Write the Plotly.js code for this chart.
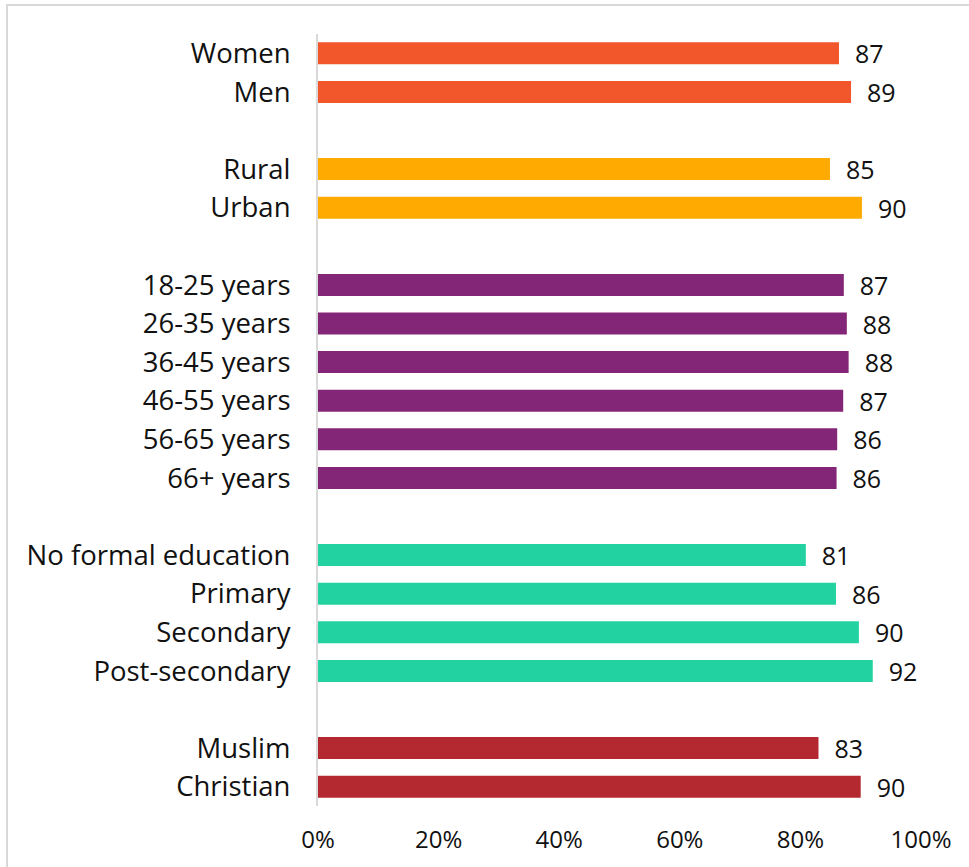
<!DOCTYPE html>
<html>
<head>
<meta charset="utf-8">
<script src="https://cdn.plot.ly/plotly-3.0.1.min.js"></script>
<style>
  html, body { margin: 0; padding: 0; background: #ffffff; overflow: hidden; }
  #chart { width: 969px; height: 867px; }
  #frame { position: absolute; left: 6px; top: 4px; width: 2000px; height: 2000px;
           border-top: 2px solid #d9d9d9; border-left: 2px solid #d9d9d9; pointer-events: none; }
</style>
</head>
<body>
<div id="chart"></div>
<div id="frame"></div>
<script>
// ---- Data ----
const genderCats = ["Women", "Men"];
const genderVals = [86.4, 88.4];
const genderLabels = ["87", "89"];

const locationCats = ["Rural", "Urban"];
const locationVals = [84.9, 90.2];
const locationLabels = ["85", "90"];

const ageCats = ["18-25 years", "26-35 years", "36-45 years", "46-55 years", "56-65 years", "66+ years"];
const ageVals = [87.2, 87.7, 88.0, 87.1, 86.1, 86.0];
const ageLabels = ["87", "88", "88", "87", "86", "86"];

const educationCats = ["No formal education", "Primary", "Secondary", "Post-secondary"];
const educationVals = [80.9, 85.9, 89.7, 92.0];
const educationLabels = ["81", "86", "90", "92"];

const religionCats = ["Muslim", "Christian"];
const religionVals = [83.0, 90.0];
const religionLabels = ["83", "90"];

const xTickVals = [0, 20, 40, 60, 80, 100];
const xTickText = ["0%", "20%", "40%", "60%", "80%", "100%"];

// ---- Build traces ----
const groups = [
  { cats: genderCats, vals: genderVals, labels: genderLabels, color: "#F2572B" },
  { cats: locationCats, vals: locationVals, labels: locationLabels, color: "#FFAA00" },
  { cats: ageCats, vals: ageVals, labels: ageLabels, color: "#842677" },
  { cats: educationCats, vals: educationVals, labels: educationLabels, color: "#22D3A1" },
  { cats: religionCats, vals: religionVals, labels: religionLabels, color: "#B4292F" }
];

let pos = 0;
const tickVals = [];
const tickText = [];
const traces = [];
groups.forEach(g => {
  const ys = g.cats.map((_, i) => pos + i);
  ys.forEach((y, i) => { tickVals.push(y); tickText.push(g.cats[i]); });
  traces.push({
    type: "bar",
    orientation: "h",
    x: g.vals,
    y: ys,
    width: 0.57,
    marker: { color: g.color, line: { width: 0 } },
    text: g.labels.map(t => "\u00a0\u00a0" + t),
    textposition: "outside",
    constraintext: "none",
    cliponaxis: false,
    textfont: { family: "Open Sans", size: 25, color: "#111111" },
    hoverinfo: "none"
  });
  pos += g.cats.length + 1;
});
const lastY = pos - 2;

const layout = {
  width: 969,
  height: 867,
  margin: { l: 318, r: 48, t: 34, b: 61 },
  paper_bgcolor: "#ffffff",
  plot_bgcolor: "#ffffff",
  showlegend: false,
  font: { family: "Open Sans", color: "#111111" },
  xaxis: {
    range: [0, 100],
    tickvals: xTickVals,
    ticktext: xTickText,
    showgrid: false,
    zeroline: false,
    showline: false,
    ticks: "outside",
    ticklen: 12,
    tickcolor: "rgba(0,0,0,0)",
    tickfont: { family: "Open Sans", size: 24, color: "#111111" },
    fixedrange: true
  },
  yaxis: {
    range: [lastY + 0.5, -0.5],
    tickvals: tickVals,
    ticktext: tickText,
    showgrid: false,
    zeroline: false,
    showline: true,
    linecolor: "#d9d9d9",
    linewidth: 2,
    ticks: "outside",
    ticklen: 20,
    tickcolor: "rgba(0,0,0,0)",
    tickfont: { family: "Open Sans", size: 27.5, color: "#111111" },
    fixedrange: true
  }
};

Plotly.newPlot("chart", traces, layout, { displayModeBar: false, staticPlot: true });
</script>
</body>
</html>
